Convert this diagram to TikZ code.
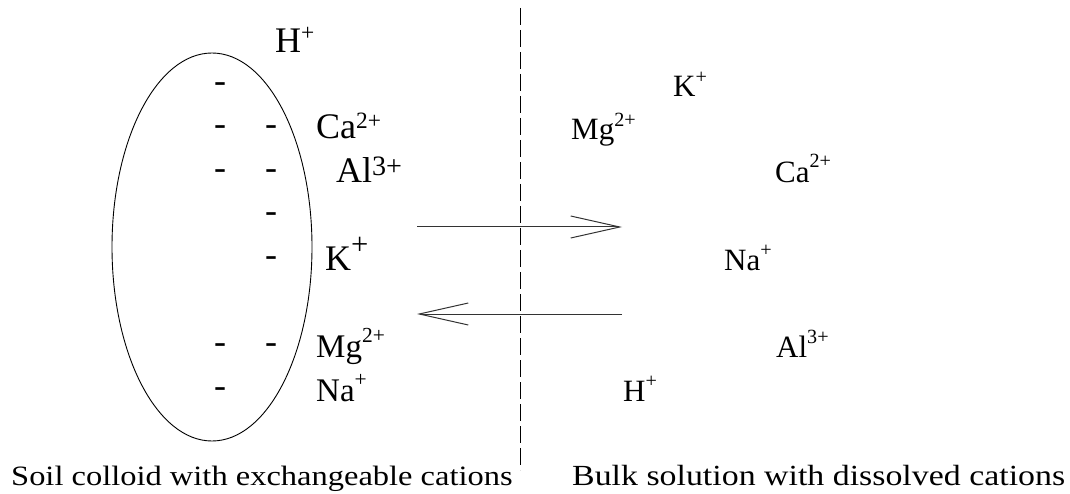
\documentclass[tikz,border=0pt]{standalone}
\usepackage{fontspec}
\usepackage{graphicx}
\setmainfont{Liberation Serif}
\newfontfamily\capfont{Liberation Serif}[FakeStretch=1.16]
\newcommand\chg[2][0.4em]{\raisebox{#1}{\scalebox{0.65}{#2}}}
\usetikzlibrary{arrows.meta,shapes.geometric}
\begin{document}
\begin{tikzpicture}[x=1pt,y=-1pt,
  ionL/.style={anchor=base west,inner sep=0pt,font=\fontsize{36}{40}\selectfont},
  ionR/.style={anchor=base west,inner sep=0pt,font=\fontsize{31}{36}\selectfont},
  neg/.style={inner sep=0pt,font=\fontsize{36}{40}\selectfont},
  caption/.style={anchor=base west,inner sep=0pt,font=\capfont\fontsize{28}{32}\selectfont},
  flow/.style={line width=1pt,draw=black!80,-{Straight Barb[length=49pt,width=22pt,line width=1pt]}},
  divider/.style={line width=1pt,dash pattern=on 17pt off 5pt}]
\useasboundingbox (0,0) rectangle (1070,494);
% colloid
\node[draw,ellipse,line width=0.9pt,minimum width=200pt,minimum height=388pt,inner sep=0pt] (colloid) at (212,247) {};
% negative charges
\node[neg] (n1a) at (220,88) {-};
\node[neg] (n2a) at (220,131) {-};
\node[neg] (n2b) at (271,131) {-};
\node[neg] (n3a) at (220,175) {-};
\node[neg] (n3b) at (271,175) {-};
\node[neg] (n4b) at (271,218) {-};
\node[neg] (n5b) at (271,262) {-};
\node[neg] (n6a) at (220,349) {-};
\node[neg] (n6b) at (271,349) {-};
\node[neg] (n7a) at (220,393) {-};
% adsorbed cations
\node[ionL] (lH) at (275,53) {H\chg[0.35em]{+}};
\node[ionL] (lCa) at (316,139) {Ca\chg[0.28em]{2+}};
\node[ionL] (lAl) at (336,183) {Al\raisebox{0.22em}{\scalebox{0.78}{3+}}};
\node[ionL] (lK) at (325,270) {K\raisebox{0.42em}{\scalebox{0.85}{+}}};
\node[ionL,font=\fontsize{33}{38}\selectfont] (lMg) at (316,357) {Mg\chg[0.45em]{2+}};
\node[ionL,font=\fontsize{33}{38}\selectfont] (lNa) at (316,401) {Na\chg[0.45em]{+}};
% dissolved cations
\node[ionR] (rK) at (673,97) {K\chg[0.45em]{+}};
\node[ionR] (rMg) at (571,140) {Mg\chg[0.45em]{2+}};
\node[ionR] (rCa) at (775,183) {Ca\chg[0.5em]{2+}};
\node[ionR] (rNa) at (724,270) {Na\chg[0.45em]{+}};
\node[ionR] (rAl) at (776,357) {Al\chg[0.45em]{3+}};
\node[ionR] (rH) at (623,401) {H\chg[0.45em]{+}};
% divider
\coordinate (dtop) at (520,8);
\coordinate (dbot) at (520,470);
\draw[divider] (dtop) -- (dbot);
% exchange arrows
\coordinate (a1s) at (417,227);
\coordinate (a1e) at (622,227);
\coordinate (a2s) at (622,314);
\coordinate (a2e) at (417,314);
\draw[flow] (a1s) -- (a1e);
\draw[flow] (a2s) -- (a2e);
% captions
\node[caption] (capL) at (11,485) {Soil colloid with exchangeable cations};
\node[caption,font=\capfont\fontsize{29.2}{33}\selectfont] (capR) at (572,485) {Bulk solution with dissolved cations};
\end{tikzpicture}
\end{document}
